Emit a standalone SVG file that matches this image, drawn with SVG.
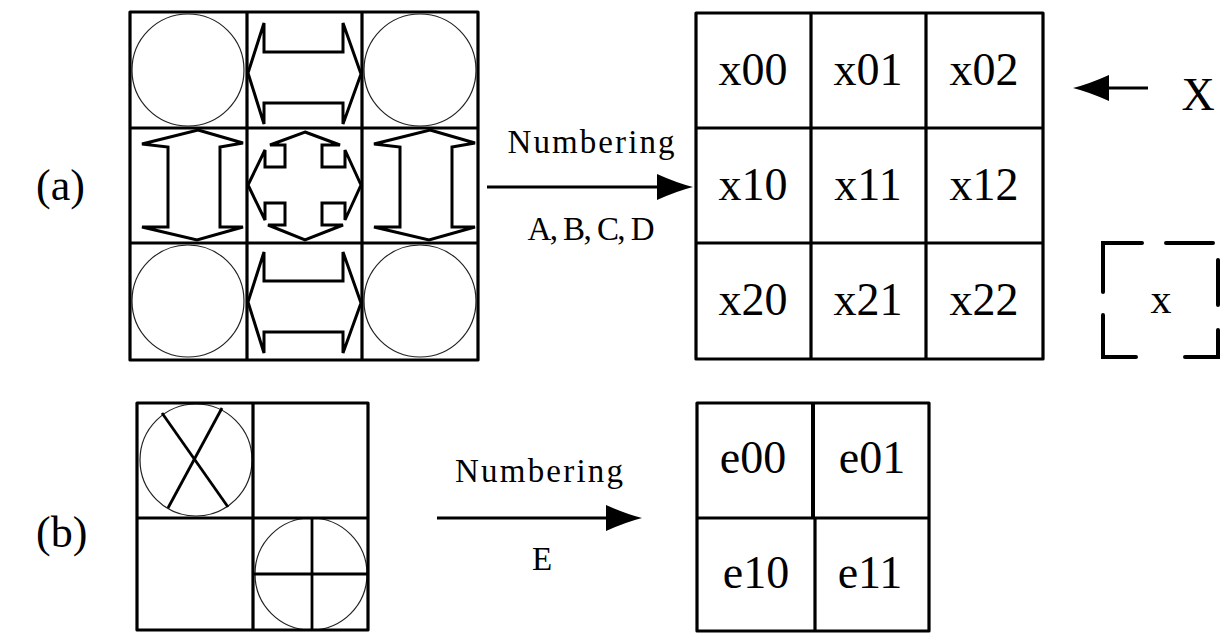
<svg xmlns="http://www.w3.org/2000/svg" width="1228" height="633" viewBox="0 0 1228 633">
  <style>
    .grid { fill: none; stroke: #000; stroke-width: 3.2; stroke-linejoin: round; }
    .ring { fill: none; stroke: #222; stroke-width: 1.2; }
    .shape { fill: #fff; stroke: #000; stroke-width: 3; stroke-linejoin: miter; }
    .bar { stroke: #000; stroke-width: 2.8; }
    .cell { font-family: "Liberation Serif", "Times New Roman", serif; font-size: 46px; text-anchor: middle; fill: #000; }
    .tag { font-family: "Liberation Serif", "Times New Roman", serif; font-size: 44px; fill: #000; }
    .mono { font-family: "Liberation Serif", "Times New Roman", serif; font-size: 33px; text-anchor: middle; fill: #000; }
    .link { stroke: #000; stroke-width: 3; fill: none; }
    .dash { stroke: #000; stroke-width: 4; fill: none; stroke-linecap: round; stroke-linejoin: miter; }
  </style>
  <defs>
    <marker id="head" markerUnits="userSpaceOnUse" markerWidth="38" markerHeight="28" refX="12" refY="13" orient="auto">
      <path d="M0,0 Q20,9 36,13 Q20,17 0,26 Z" fill="#000"/>
    </marker>
    <!-- horizontal double arrow, local cell coordinates -->
    <polygon id="harrow" class="shape" points="1,61 17,11 17,40 96,40 96,11 114,62 96,112 96,91 17,91 17,112"/>
    <!-- vertical double arrow -->
    <polygon id="varrow" class="shape" points="68,2 113,15 90,19 90,99 113,99 67,112 12,99 38,99 38,19 12,16"/>
    <!-- four-way arrow -->
    <polygon id="xarrow" class="shape" points="58,4 93,17 75,17 75,39 98,39 98,22 114,57 98,92 98,75 75,75 75,97 96,97 58,112 21,97 38,97 38,75 18,75 18,92 1,57 18,22 18,39 38,39 38,17 23,17"/>
  </defs>

  <!-- (a) pattern grid -->
  <g id="pattern-a">
    <circle class="ring" cx="188" cy="70" r="56"/>
    <circle class="ring" cx="420" cy="70" r="56"/>
    <circle class="ring" cx="188" cy="301" r="56"/>
    <circle class="ring" cx="420" cy="301" r="56"/>
    <use href="#harrow" x="247" y="12"/>
    <use href="#harrow" x="247" y="241"/>
    <use href="#varrow" x="130" y="128"/>
    <use href="#varrow" x="362" y="128"/>
    <use href="#xarrow" x="247" y="128"/>
    <rect class="grid" x="130" y="12" width="348" height="348"/>
    <path class="grid" d="M247,12 V360 M362,12 V360 M130,128 H478 M130,243 H478"/>
  </g>

  <!-- (a) numbered grid -->
  <g id="numbers-a">
    <rect class="grid" x="696" y="13" width="347" height="346"/>
    <path class="grid" d="M811,13 V359 M926,13 V359 M696,128 H1043 M696,243 H1043"/>
    <text class="cell" x="753" y="85">x00</text>
    <text class="cell" x="868" y="85">x01</text>
    <text class="cell" x="984" y="85">x02</text>
    <text class="cell" x="753" y="200">x10</text>
    <text class="cell" x="868" y="200">x11</text>
    <text class="cell" x="984" y="200">x12</text>
    <text class="cell" x="753" y="315">x20</text>
    <text class="cell" x="868" y="315">x21</text>
    <text class="cell" x="984" y="315">x22</text>
  </g>

  <!-- legend: X marker and dashed x box -->
  <g id="legend">
    <text class="cell" x="1198" y="110">X</text>
    <g id="dashed-x">
      <path class="dash" d="M1103,292 V243 H1142 M1166,243 H1213 M1218,260 V305 M1218,330 V357 H1185 M1136,357 H1103 V315"/>
      <text class="cell" x="1161" y="313" style="font-size:42px">x</text>
    </g>
  </g>

  <!-- (b) pattern grid -->
  <g id="pattern-b">
    <circle class="ring" cx="196" cy="460" r="56"/>
    <line class="bar" x1="162" y1="413" x2="228" y2="507"/>
    <line class="bar" x1="222" y1="408" x2="168" y2="508"/>
    <circle class="ring" cx="311" cy="574" r="56"/>
    <line class="bar" x1="312" y1="518" x2="312" y2="630"/>
    <line class="bar" x1="254" y1="574" x2="368" y2="574"/>
    <rect class="grid" x="137" y="403" width="231" height="227"/>
    <path class="grid" d="M253,403 V630 M137,518 H368"/>
  </g>

  <!-- (b) numbered grid -->
  <g id="numbers-b">
    <rect class="grid" x="697" y="403" width="232" height="228"/>
    <path class="grid" d="M697,518 H929 M815,518 V631"/>
    <line x1="813" y1="403" x2="813" y2="518" stroke="#000" stroke-width="4"/>
    <text class="cell" x="753" y="473">e00</text>
    <text class="cell" x="872" y="473">e01</text>
    <text class="cell" x="756" y="588">e10</text>
    <text class="cell" x="870" y="588">e11</text>
  </g>

  <!-- row labels -->
  <g id="labels">
    <text class="tag" x="36" y="200">(a)</text>
    <text class="tag" x="36" y="547">(b)</text>
  </g>

  <!-- connectors -->
  <g id="connectors">
    <line class="link" x1="487" y1="187" x2="669" y2="187" marker-end="url(#head)"/>
    <text class="mono" x="591" y="153" textLength="167" lengthAdjust="spacing">Numbering</text>
    <text class="mono" x="591" y="240" textLength="127" lengthAdjust="spacing">A, B, C, D</text>

    <line class="link" x1="437" y1="518" x2="618" y2="518" marker-end="url(#head)"/>
    <text class="mono" x="539" y="482" textLength="168" lengthAdjust="spacing">Numbering</text>
    <text class="mono" x="542" y="570">E</text>

    <line class="link" x1="1148" y1="88" x2="1097" y2="88" marker-end="url(#head)"/>
  </g>
</svg>
